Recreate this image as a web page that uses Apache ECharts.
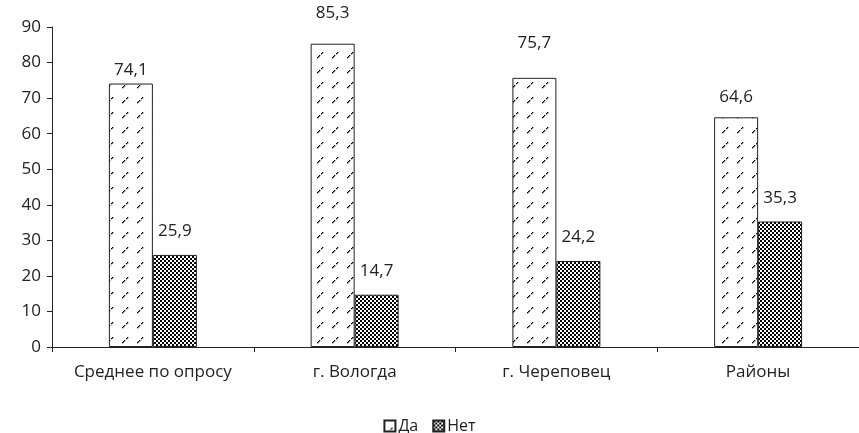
<!DOCTYPE html>
<html>
<head>
<meta charset="utf-8">
<script src="https://cdn.jsdelivr.net/npm/echarts@6/dist/echarts.min.js"></script>
<style>html,body{margin:0;padding:0;background:#fff}#c{width:859px;height:433px}</style>
</head>
<body>
<div id="c"></div>
<script>
const categories = ['Среднее по опросу', 'г. Вологда', 'г. Череповец', 'Районы'];
const daValues = [74.1, 85.3, 75.7, 64.6];
const netValues = [25.9, 14.7, 24.2, 35.3];
const yTicks = [0, 10, 20, 30, 40, 50, 60, 70, 80, 90];

// label lift above bar top (style only)
const daLabelDist = [5, 22, 26, 12];
const netLabelDist = [15, 15, 15, 15];

function makeDiag() {
  const c = document.createElement('canvas');
  c.width = 15; c.height = 15;
  const g = c.getContext('2d');
  g.fillStyle = '#fff'; g.fillRect(0, 0, 15, 15);
  g.fillStyle = '#000';
  [[2,12],[3,11],[4,10],[6,8],[7,7]].forEach(p => g.fillRect(p[0], p[1], 1.3, 1.3));
  return c;
}
function makeCheck() {
  const c = document.createElement('canvas');
  c.width = 4; c.height = 4;
  const g = c.getContext('2d');
  g.fillStyle = '#fff'; g.fillRect(0, 0, 4, 4);
  g.fillStyle = '#000';
  g.fillRect(0, 0, 2, 2); g.fillRect(2, 2, 2, 2);
  return c;
}
const diag = { image: makeDiag(), repeat: 'repeat' };
const check = { image: makeCheck(), repeat: 'repeat' };
const fmt = v => String(v.value !== undefined ? v.value : v).replace('.', ',');
const FONT = 'Open Sans';
const FS = 17;
const TXT = '#222';

const chart = echarts.init(document.getElementById('c'), null, { renderer: 'canvas' });
chart.setOption({
  animation: false,
  textStyle: { fontFamily: FONT },
  grid: { left: 52, top: 27, width: 816, height: 320, containLabel: false },
  legend: {
    top: 413, left: 'center', itemWidth: 11, itemHeight: 11, itemGap: 14,
    icon: 'rect',
    textStyle: { fontFamily: FONT, fontSize: 16, color: TXT, padding: [0, 0, 0, -2] },
    data: ['Да', 'Нет']
  },
  xAxis: {
    type: 'category', data: categories,
    axisLine: { lineStyle: { color: '#222', width: 1 } },
    axisTick: { show: true, length: 5, lineStyle: { color: '#222' } },
    axisLabel: { fontFamily: FONT, fontSize: FS, color: TXT, margin: 17, interval: 0 }
  },
  yAxis: {
    type: 'value', min: yTicks[0], max: yTicks[yTicks.length - 1], interval: 10,
    axisLine: { show: true, lineStyle: { color: '#222' } },
    axisTick: { show: true, length: 5, lineStyle: { color: '#222' } },
    splitLine: { show: false },
    axisLabel: { fontFamily: FONT, fontSize: FS, color: TXT, margin: 11 }
  },
  series: [
    {
      name: 'Да', type: 'bar', barWidth: 44, barGap: '0%',
      itemStyle: { color: diag, borderColor: '#222', borderWidth: 1 },
      label: { show: true, position: 'top', formatter: fmt, fontFamily: FONT, fontSize: FS, color: TXT },
      data: daValues.map((v, i) => ({ value: v, label: { distance: daLabelDist[i] } }))
    },
    {
      name: 'Нет', type: 'bar', barWidth: 44, barGap: '0%',
      itemStyle: { color: check, borderColor: '#222', borderWidth: 1 },
      label: { show: true, position: 'top', formatter: fmt, fontFamily: FONT, fontSize: FS, color: TXT },
      data: netValues.map((v, i) => ({ value: v, label: { distance: netLabelDist[i] } }))
    }
  ]
});
</script>
</body>
</html>
